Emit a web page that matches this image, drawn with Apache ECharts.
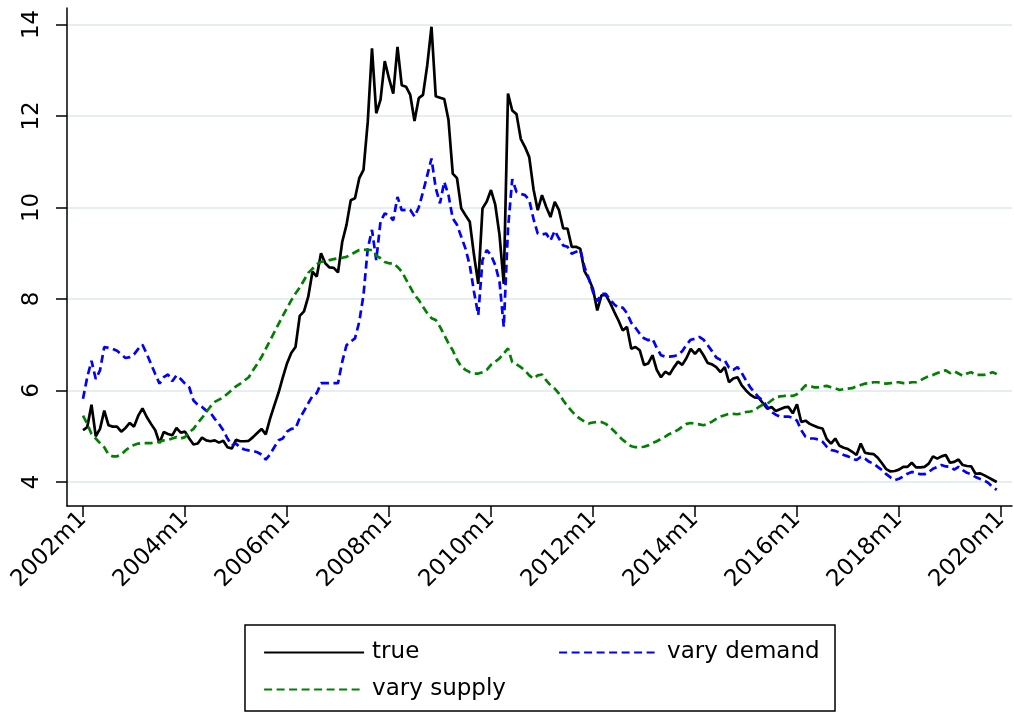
<!DOCTYPE html>
<html>
<head>
<meta charset="utf-8">
<script src="https://cdn.jsdelivr.net/npm/echarts@6/dist/echarts.min.js"></script>
<style>
html,body{margin:0;padding:0;background:#fff;}
#chart{width:1014px;height:713px;}
</style>
</head>
<body>
<div id="chart"></div>
<script>
// Monthly series, 2002m1 .. 2019m12 (index 0 = 2002m1)
const seriesNames = ['true', 'vary demand', 'vary supply'];
const xTickValues = [0, 24, 48, 72, 96, 120, 144, 168, 192, 216];
const xTickLabels = ['2002m1','2004m1','2006m1','2008m1','2010m1','2012m1','2014m1','2016m1','2018m1','2020m1'];
const yTicks = [4, 6, 8, 10, 12, 14];

const trueVals = [
  5.13,5.2,5.69,5.0,5.16,5.56,5.24,5.21,5.21,5.1,5.18,5.29,
  5.21,5.45,5.61,5.42,5.27,5.13,4.85,5.09,5.05,5.02,5.18,5.08,
  5.1,4.95,4.82,4.84,4.97,4.91,4.89,4.91,4.86,4.9,4.76,4.73,
  4.92,4.89,4.89,4.9,4.98,5.07,5.16,5.04,5.38,5.67,5.95,6.28,
  6.59,6.82,6.95,7.63,7.73,8.05,8.6,8.49,9.0,8.78,8.69,8.68,
  8.58,9.25,9.62,10.16,10.2,10.64,10.82,11.87,13.48,12.06,12.35,13.2,
  12.82,12.49,13.51,12.67,12.64,12.46,11.89,12.39,12.46,13.11,13.95,12.43,
  12.4,12.37,11.91,10.74,10.64,9.98,9.83,9.69,8.96,8.33,9.98,10.13,
  10.38,10.06,9.4,8.33,12.49,12.12,12.04,11.5,11.32,11.1,10.4,9.94,
  10.27,10.01,9.79,10.12,9.94,9.54,9.54,9.14,9.14,9.1,8.61,8.44,
  8.22,7.75,8.08,8.09,7.92,7.72,7.53,7.31,7.39,6.91,6.95,6.88,
  6.56,6.59,6.77,6.45,6.29,6.41,6.35,6.5,6.63,6.56,6.71,6.91,
  6.8,6.91,6.77,6.6,6.57,6.51,6.4,6.51,6.18,6.26,6.29,6.11,
  6.0,5.91,5.85,5.84,5.72,5.6,5.64,5.55,5.59,5.63,5.64,5.5,
  5.7,5.31,5.34,5.27,5.23,5.19,5.17,4.94,4.84,4.95,4.79,4.75,
  4.72,4.66,4.59,4.84,4.64,4.62,4.61,4.53,4.41,4.28,4.23,4.24,
  4.27,4.33,4.33,4.42,4.32,4.32,4.33,4.4,4.56,4.51,4.56,4.59,
  4.42,4.44,4.49,4.37,4.35,4.34,4.18,4.19,4.15,4.1,4.05,4.0
];

const demandVals = [
  5.82,6.29,6.65,6.25,6.44,6.95,6.93,6.91,6.87,6.79,6.71,6.73,
  6.79,6.91,7.0,6.8,6.58,6.36,6.15,6.29,6.35,6.2,6.33,6.25,
  6.15,6.07,5.78,5.69,5.64,5.56,5.51,5.38,5.27,5.13,4.95,4.8,
  4.84,4.75,4.71,4.69,4.68,4.65,4.6,4.49,4.6,4.76,4.91,4.95,
  5.1,5.16,5.17,5.4,5.55,5.72,5.88,5.94,6.16,6.16,6.16,6.16,
  6.16,6.63,6.99,7.07,7.14,7.5,8.09,9.1,9.51,8.85,9.69,9.87,
  9.83,9.72,10.23,9.94,9.95,9.95,9.8,10.0,10.34,10.7,11.07,10.42,
  10.09,10.56,10.27,9.76,9.62,9.36,9.1,8.74,8.16,7.65,8.85,9.07,
  8.96,8.74,8.38,7.39,9.54,10.62,10.34,10.3,10.27,10.16,9.75,9.43,
  9.41,9.43,9.28,9.49,9.32,9.17,9.14,8.99,9.03,9.08,8.7,8.45,
  8.15,7.95,8.11,8.11,7.99,7.88,7.81,7.81,7.69,7.48,7.37,7.24,
  7.14,7.1,7.13,6.93,6.77,6.74,6.74,6.75,6.78,6.86,7.0,7.11,
  7.13,7.17,7.11,6.99,6.86,6.72,6.67,6.66,6.5,6.45,6.51,6.38,
  6.22,6.07,5.96,5.85,5.78,5.64,5.53,5.47,5.43,5.43,5.43,5.4,
  5.34,5.13,4.99,4.95,4.95,4.93,4.88,4.77,4.7,4.68,4.64,4.59,
  4.56,4.51,4.48,4.55,4.51,4.44,4.4,4.33,4.26,4.17,4.1,4.04,
  4.07,4.12,4.18,4.22,4.2,4.17,4.17,4.22,4.29,4.33,4.37,4.34,
  4.33,4.27,4.33,4.26,4.2,4.17,4.11,4.07,4.04,3.98,3.89,3.83
];

const supplyVals = [
  5.45,5.27,5.05,4.95,4.85,4.76,4.6,4.56,4.56,4.6,4.69,4.76,
  4.81,4.84,4.85,4.85,4.85,4.87,4.88,4.91,4.92,4.95,4.98,4.95,
  4.98,5.09,5.16,5.29,5.4,5.53,5.65,5.75,5.8,5.85,5.93,6.01,
  6.09,6.15,6.22,6.29,6.44,6.58,6.73,6.91,7.09,7.27,7.45,7.63,
  7.8,7.97,8.12,8.25,8.41,8.57,8.66,8.76,8.81,8.83,8.85,8.87,
  8.89,8.9,8.92,8.97,9.02,9.07,9.08,9.07,9.07,8.95,8.89,8.81,
  8.78,8.78,8.7,8.6,8.43,8.26,8.09,7.98,7.83,7.69,7.58,7.54,
  7.39,7.21,7.03,6.88,6.67,6.52,6.45,6.4,6.37,6.37,6.4,6.45,
  6.56,6.63,6.7,6.81,6.92,6.62,6.57,6.51,6.44,6.33,6.26,6.33,
  6.35,6.22,6.11,6.04,5.93,5.78,5.66,5.55,5.45,5.38,5.32,5.28,
  5.3,5.31,5.31,5.27,5.2,5.11,5.01,4.92,4.85,4.78,4.76,4.76,
  4.77,4.8,4.85,4.89,4.94,4.99,5.05,5.09,5.14,5.21,5.27,5.29,
  5.27,5.26,5.24,5.27,5.32,5.38,5.43,5.46,5.49,5.49,5.48,5.5,
  5.53,5.54,5.56,5.64,5.69,5.71,5.78,5.85,5.87,5.88,5.88,5.88,
  5.92,6.01,6.11,6.1,6.07,6.07,6.09,6.1,6.07,6.05,6.01,6.03,
  6.04,6.05,6.09,6.12,6.15,6.16,6.18,6.18,6.16,6.15,6.16,6.18,
  6.18,6.16,6.16,6.18,6.18,6.22,6.27,6.31,6.34,6.38,6.41,6.44,
  6.38,6.42,6.37,6.32,6.37,6.4,6.34,6.34,6.34,6.36,6.4,6.36
];

const FONT = '"DejaVu Sans", sans-serif';
const toPairs = arr => arr.map((v, i) => [i, v]);

const chart = echarts.init(document.getElementById('chart'), null, {renderer: 'canvas'});

const legendText = {fontFamily: FONT, fontSize: 23, color: '#000', padding: [0, 0, 0, 3]};
const legendCommon = {itemWidth: 100, itemHeight: 14, textStyle: legendText,
  itemStyle: {opacity: 0}, lineStyle: {width: 2.2}};

const option = {
  animation: false,
  backgroundColor: '#ffffff',
  grid: {left: 67, right: 2, top: 8, bottom: 207, containLabel: false},
  xAxis: {
    type: 'value',
    min: -3.765,
    max: 218.59,
    axisLine: {show: true, onZero: false, lineStyle: {color: '#000', width: 1.5}},
    axisTick: {show: true, length: 11, customValues: xTickValues, lineStyle: {color: '#000', width: 1.5}},
    axisLabel: {
      customValues: xTickValues,
      rotate: 45, margin: 10,
      fontFamily: FONT, fontSize: 23, color: '#000',
      formatter: v => { const k = xTickValues.indexOf(Math.round(v)); return k >= 0 ? xTickLabels[k] : ''; }
    },
    splitLine: {show: false}
  },
  yAxis: {
    type: 'value',
    min: 3.475,
    max: 14.36,
    axisLine: {show: true, onZero: false, lineStyle: {color: '#000', width: 1.5}},
    axisTick: {show: true, length: 11, customValues: yTicks, lineStyle: {color: '#000', width: 1.5}},
    axisLabel: {
      customValues: yTicks,
      rotate: 90, margin: 23,
      fontFamily: FONT, fontSize: 23, color: '#000'
    },
    splitLine: {show: true, lineStyle: {color: '#e6eef0', width: 2}}
  },
  legend: [
    Object.assign({data: [seriesNames[0]], left: 258, top: 636}, legendCommon),
    Object.assign({data: [seriesNames[1]], left: 553, top: 636}, legendCommon),
    Object.assign({data: [seriesNames[2]], left: 258, top: 673}, legendCommon)
  ],
  graphic: [
    {type: 'rect', shape: {x: 245, y: 625, width: 590, height: 86}, style: {fill: 'none', stroke: '#000', lineWidth: 1.5}, z: 0}
  ],
  series: [
    {name: seriesNames[0], type: 'line', data: toPairs(trueVals), symbol: 'none', showSymbol: false,
     lineStyle: {color: '#000000', width: 2.7}, itemStyle: {color: '#000000'}},
    {name: seriesNames[1], type: 'line', data: toPairs(demandVals), symbol: 'none', showSymbol: false,
     lineStyle: {color: '#0000ff', width: 2.7, type: [8, 4.5]}, itemStyle: {color: '#0000ff'}},
    {name: seriesNames[2], type: 'line', data: toPairs(supplyVals), symbol: 'none', showSymbol: false,
     lineStyle: {color: '#008000', width: 2.7, type: [8, 4.5]}, itemStyle: {color: '#008000'}}
  ]
};
chart.setOption(option);
</script>
</body>
</html>
